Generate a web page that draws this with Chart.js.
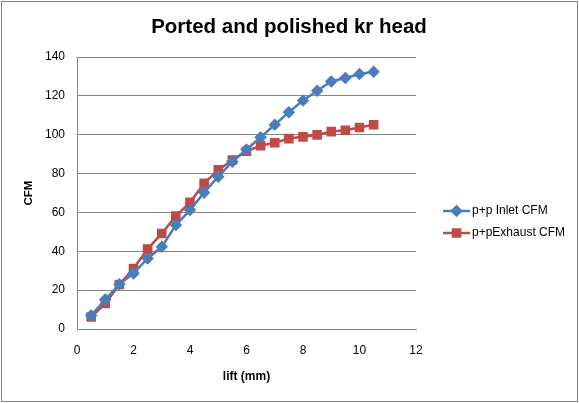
<!DOCTYPE html>
<html lang="en">
<head>
    <meta charset="UTF-8">
    <title>Ported and polished kr head</title>
    <script src="https://cdn.jsdelivr.net/npm/chart.js@4"></script>
    <style>
        html, body { margin: 0; padding: 0; background: #fff; }
        #wrap { width: 579px; height: 403px; }
    </style>
</head>
<body>
    <div id="wrap"><canvas id="flowChart" width="579" height="403"></canvas></div>

    <script>
        // lift values (mm) and measured flow (CFM)
        const liftMm = [0.5, 1, 1.5, 2, 2.5, 3, 3.5, 4, 4.5, 5, 5.5, 6, 6.5, 7, 7.5, 8, 8.5, 9, 9.5, 10, 10.5];
        const inletCfm = [7, 15.2, 23, 28.6, 36.3, 42.3, 53.5, 61.2, 70.2, 78.4, 86.1, 92.4, 98.7, 105.1, 111.6, 117.6, 122.6, 127.4, 129.2, 131.2, 132.4];
        const exhaustCfm = [6.2, 13.1, 22.9, 31.1, 41.1, 49.2, 58.1, 65.2, 75.0, 81.9, 87.0, 91.5, 94.4, 95.9, 98.0, 98.9, 99.9, 101.6, 102.3, 103.7, 105.1];
        const seriesNames = ['p+p Inlet CFM', 'p+pExhaust CFM'];
        const chartTitle = 'Ported and polished kr head';

        const BLUE = '#4a7ebb';
        const RED = '#be4b48';
        const FONT = "'Liberation Sans', Arial, sans-serif";

        const toPoints = (ys) => liftMm.map((x, i) => ({ x: x, y: ys[i] }));

        // title centred on the whole canvas, Excel-like legend, outer frame
        const excelExtras = {
            id: 'excelExtras',
            afterDraw(chart) {
                const ctx = chart.ctx;
                ctx.save();

                ctx.fillStyle = '#000';
                ctx.font = 'bold 20.5px ' + FONT;
                ctx.textAlign = 'center';
                ctx.textBaseline = 'middle';
                ctx.fillText(chartTitle, 289, 27);

                const rows = [
                    { label: seriesNames[0], color: BLUE, style: 'rectRot', r: 4.5, y: 211 },
                    { label: seriesNames[1], color: RED, style: 'rect', r: 5, y: 233 }
                ];
                ctx.textAlign = 'left';
                rows.forEach(row => {
                    ctx.strokeStyle = row.color;
                    ctx.lineWidth = 2.5;
                    ctx.beginPath();
                    ctx.moveTo(443, row.y);
                    ctx.lineTo(470, row.y);
                    ctx.stroke();
                    Chart.helpers.drawPoint(ctx, {
                        pointStyle: row.style, radius: row.r, borderWidth: 1
                    }, 456.5, row.y);
                    ctx.fillStyle = row.color;
                    ctx.fill();
                    ctx.fillStyle = '#000';
                    ctx.font = '12px ' + FONT;
                    ctx.fillText(row.label, 472, row.y);
                });

                ctx.strokeStyle = '#868686';
                ctx.lineWidth = 1;
                ctx.strokeRect(1.5, 1.5, 576, 400);
                ctx.restore();
            }
        };

        new Chart(document.getElementById('flowChart').getContext('2d'), {
            type: 'scatter',
            data: {
                datasets: [{
                    label: seriesNames[0],
                    data: toPoints(inletCfm),
                    showLine: true,
                    borderColor: BLUE,
                    backgroundColor: BLUE,
                    borderWidth: 2.5,
                    pointStyle: 'rectRot',
                    pointRadius: 4.5,
                    pointHoverRadius: 4.5
                }, {
                    label: seriesNames[1],
                    data: toPoints(exhaustCfm),
                    showLine: true,
                    borderColor: RED,
                    backgroundColor: RED,
                    borderWidth: 2.5,
                    pointStyle: 'rect',
                    pointRadius: 5,
                    pointHoverRadius: 5
                }]
            },
            options: {
                responsive: false,
                animation: false,
                layout: { padding: { left: 22, right: 163, top: 57, bottom: 19 } },
                plugins: {
                    legend: { display: false },
                    tooltip: { enabled: false },
                    title: { display: false }
                },
                scales: {
                    x: {
                        type: 'linear',
                        min: 0,
                        max: 12,
                        afterFit: (s) => { s.height = 55; },
                        ticks: { stepSize: 2, color: '#000', font: { family: FONT, size: 12 }, padding: 14 },
                        grid: { display: false, drawTicks: false },
                        border: { color: '#868686', width: 1 },
                        title: {
                            display: true,
                            text: 'lift (mm)',
                            color: '#000',
                            font: { family: FONT, size: 12, weight: 'bold' },
                            padding: { top: 12, bottom: 0 }
                        }
                    },
                    y: {
                        min: 0,
                        max: 140,
                        afterFit: (s) => { s.width = 55; },
                        ticks: { stepSize: 20, color: '#000', font: { family: FONT, size: 12 }, padding: 12 },
                        grid: { color: '#868686', lineWidth: 1, drawTicks: false },
                        border: { color: '#868686', width: 1 },
                        title: {
                            display: true,
                            text: 'CFM',
                            color: '#000',
                            font: { family: FONT, size: 11.5, weight: 'bold' },
                            padding: { top: 0, bottom: 8 }
                        }
                    }
                }
            },
            plugins: [excelExtras]
        });
    </script>
</body>
</html>
